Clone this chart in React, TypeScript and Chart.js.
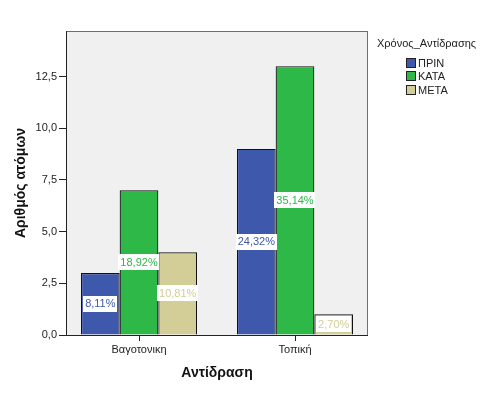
import React, { useEffect, useRef } from "react";
import { Chart, registerables } from "chart.js";

Chart.register(...registerables);

const categories = ["Βαγοτονικη", "Τοπική"];
const seriesNames = ["ΠΡΙΝ", "ΚΑΤΑ", "ΜΕΤΑ"];
const priorValues = [3, 9];
const duringValues = [7, 13];
const afterValues = [4, 1];
const yTickStep = 2.5;
const yMax = 14.7;
const xTitle = "Αντίδραση";
const yTitle = "Αριθμός ατόμων";
const legendTitle = "Χρόνος_Αντίδρασης";

const colors = ["#3E58AC", "#2EB848", "#D3CE97"];
const FONT = "'Liberation Sans', Arial, sans-serif";

const allSeries = [priorValues, duringValues, afterValues];
const total = allSeries.reduce((s, arr) => s + arr.reduce((a, b) => a + b, 0), 0);
const pctLabels = allSeries.map((arr) =>
  arr.map((v) => ((v / total) * 100).toFixed(2).replace(".", ",") + "%")
);

const bgPlugin = {
  id: "plotBg",
  beforeDraw(chart: any) {
    const { ctx, chartArea: a } = chart;
    ctx.save();
    ctx.fillStyle = "#F0F0F0";
    ctx.fillRect(a.left, a.top, a.right - a.left, a.bottom - a.top);
    ctx.restore();
  },
  afterDatasetsDraw(chart: any) {
    const { ctx, chartArea: a } = chart;
    ctx.save();
    ctx.strokeStyle = "#6E6E6E";
    ctx.lineWidth = 1;
    ctx.strokeRect(a.left + 0.5, a.top + 0.5, a.right - a.left - 1, a.bottom - a.top);
    ctx.strokeStyle = "#222";
    ctx.beginPath();
    ctx.moveTo(a.left + 0.5, a.top);
    ctx.lineTo(a.left + 0.5, a.bottom + 0.5);
    ctx.lineTo(a.right, a.bottom + 0.5);
    ctx.stroke();
    ctx.restore();
  },
  afterDraw(chart: any) {
    const { ctx, chartArea: a } = chart;
    const xs = chart.scales.x;
    ctx.save();
    ctx.strokeStyle = "#222222";
    ctx.lineWidth = 1;
    ctx.beginPath();
    categories.forEach((_, i) => {
      const px = Math.round(xs.getPixelForValue(i)) + 0.5;
      ctx.moveTo(px, a.bottom);
      ctx.lineTo(px, a.bottom + 6);
    });
    ctx.stroke();
    ctx.restore();
  },
};

const labelPlugin = {
  id: "pctLabels",
  afterDatasetsDraw(chart: any) {
    const ctx = chart.ctx;
    ctx.save();
    ctx.font = `11px ${FONT}`;
    ctx.textAlign = "center";
    ctx.textBaseline = "middle";
    chart.data.datasets.forEach((ds: any, i: number) => {
      const meta = chart.getDatasetMeta(i);
      meta.data.forEach((el: any, j: number) => {
        const { x, y, base } = el.getProps(["x", "y", "base"], true);
        const h = 16;
        let cy = (y + base) / 2;
        if (cy + h / 2 > base - 1) cy = base - 1 - h / 2;
        const label = pctLabels[i][j];
        const w = ctx.measureText(label).width + 4;
        ctx.fillStyle = "#FFFFFF";
        ctx.fillRect(Math.round(x - w / 2), Math.round(cy - h / 2), Math.round(w), h);
        ctx.fillStyle = colors[i];
        ctx.fillText(label, x, cy + 0.5);
      });
    });
    ctx.restore();
  },
};

const legendPlugin = {
  id: "customLegend",
  afterDraw(chart: any) {
    const ctx = chart.ctx;
    ctx.save();
    ctx.font = `11px ${FONT}`;
    ctx.textAlign = "left";
    ctx.textBaseline = "middle";
    ctx.fillStyle = "#222";
    ctx.fillText(legendTitle, 377, 44);
    seriesNames.forEach((name, i) => {
      const top = 57.5 + i * 13.5;
      ctx.fillStyle = colors[i];
      ctx.fillRect(406, Math.round(top), 10, 10);
      ctx.strokeStyle = "#222";
      ctx.lineWidth = 1;
      ctx.strokeRect(406.5, Math.round(top) + 0.5, 9, 9);
      ctx.fillStyle = "#222";
      ctx.fillText(name, 418, Math.round(top) + 5.5);
    });
    ctx.restore();
  },
};

export default function App() {
  const ref = useRef<HTMLCanvasElement | null>(null);
  useEffect(() => {
    if (!ref.current) return;
    const chart = new Chart(ref.current, {
      type: "bar",
      data: {
        datasets: seriesNames.map((name, i) => ({
          label: name,
          data: allSeries[i].map((v, j) => ({ x: j, y: v })),
          backgroundColor: colors[i],
          borderColor: "#111111",
          borderWidth: 1.2,
          barPercentage: 1,
          categoryPercentage: 0.744,
        })),
      } as any,
      plugins: [bgPlugin, labelPlugin, legendPlugin],
      options: {
        responsive: false,
        animation: false,
        layout: { padding: { top: 31, right: 124, left: 0, bottom: 0 } },
        plugins: {
          legend: { display: false },
          tooltip: { enabled: false },
        },
        scales: {
          x: {
            type: "linear",
            offset: false,
            min: -0.468,
            max: 1.468,
            afterFit: (s: any) => {
              s.height = 59;
            },
            ticks: {
              stepSize: 1,
              includeBounds: false,
              autoSkip: false,
              callback: (v: any) => {
                const idx = Math.round(Number(v));
                return Math.abs(Number(v) - idx) < 1e-6 && categories[idx] ? categories[idx] : "";
              },
              font: { family: FONT, size: 11 },
              color: "#222",
              padding: 3,
              maxRotation: 0,
            },
            grid: {
              display: true,
              drawOnChartArea: false,
              drawTicks: true,
              tickLength: 5,
              color: "rgba(0,0,0,0)",
            },
            border: { display: false },
            title: {
              display: true,
              text: xTitle,
              font: { family: FONT, size: 14, weight: "bold" },
              color: "#111",
              padding: { top: 0, bottom: 12 },
            },
          },
          y: {
            min: 0,
            max: yMax,
            afterFit: (s: any) => {
              s.width = 66;
            },
            ticks: {
              stepSize: yTickStep,
              includeBounds: false,
              callback: (v: any) => Number(v).toFixed(1).replace(".", ","),
              font: { family: FONT, size: 11 },
              color: "#222",
              padding: 2,
            },
            grid: {
              drawOnChartArea: false,
              drawTicks: true,
              tickLength: 7,
              color: "#222",
            },
            border: { display: false },
            title: {
              display: true,
              text: yTitle,
              font: { family: FONT, size: 14, weight: "bold" },
              color: "#111",
              padding: { top: 13, bottom: 0 },
            },
          },
        },
      } as any,
    });
    return () => chart.destroy();
  }, []);
  return (
    <div style={{ position: "absolute", left: 0, top: 0, width: 492, height: 394, background: "#fff" }}>
      <canvas ref={ref} width={492} height={394} style={{ width: 492, height: 394 }} />
    </div>
  );
}
